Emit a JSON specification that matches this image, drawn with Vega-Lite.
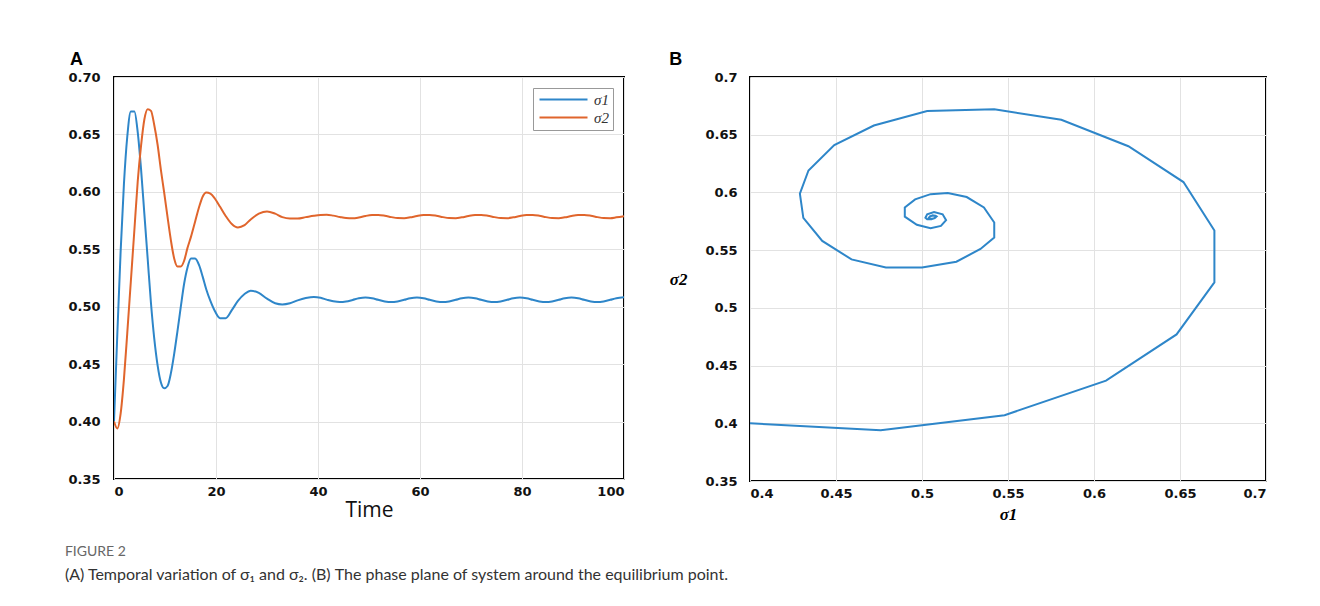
{
  "$schema": "https://vega.github.io/schema/vega-lite/v6.json",
  "background": "white",
  "padding": {"left": 64, "top": 50, "right": 20, "bottom": 5},
  "data": {"values": [
    {"t": 0, "s1": 0.400, "s2": 0.400},
    {"t": 0.65, "s1": 0.476, "s2": 0.394},
    {"t": 1.3, "s1": 0.548, "s2": 0.407},
    {"t": 1.95, "s1": 0.607, "s2": 0.437},
    {"t": 2.6, "s1": 0.648, "s2": 0.477},
    {"t": 3.3, "s1": 0.670, "s2": 0.522},
    {"t": 4.0, "s1": 0.670, "s2": 0.567},
    {"t": 4.65, "s1": 0.652, "s2": 0.609},
    {"t": 5.3, "s1": 0.620, "s2": 0.640},
    {"t": 5.95, "s1": 0.581, "s2": 0.663},
    {"t": 6.6, "s1": 0.542, "s2": 0.672},
    {"t": 7.25, "s1": 0.503, "s2": 0.6705},
    {"t": 7.9, "s1": 0.472, "s2": 0.658},
    {"t": 8.55, "s1": 0.449, "s2": 0.641},
    {"t": 9.2, "s1": 0.434, "s2": 0.619},
    {"t": 9.85, "s1": 0.429, "s2": 0.599},
    {"t": 10.5, "s1": 0.431, "s2": 0.578},
    {"t": 11.15, "s1": 0.442, "s2": 0.558},
    {"t": 11.8, "s1": 0.459, "s2": 0.542},
    {"t": 12.45, "s1": 0.479, "s2": 0.535},
    {"t": 13.1, "s1": 0.500, "s2": 0.535},
    {"t": 13.75, "s1": 0.520, "s2": 0.540},
    {"t": 14.4, "s1": 0.534, "s2": 0.551},
    {"t": 15.1, "s1": 0.542, "s2": 0.561},
    {"t": 15.9, "s1": 0.542, "s2": 0.574},
    {"t": 16.7, "s1": 0.536, "s2": 0.587},
    {"t": 17.4, "s1": 0.526, "s2": 0.596},
    {"t": 18.1, "s1": 0.515, "s2": 0.5995},
    {"t": 18.9, "s1": 0.505, "s2": 0.5985},
    {"t": 19.8, "s1": 0.496, "s2": 0.594},
    {"t": 20.8, "s1": 0.490, "s2": 0.587},
    {"t": 21.9, "s1": 0.490, "s2": 0.579},
    {"t": 23.1, "s1": 0.497, "s2": 0.572},
    {"t": 24.3, "s1": 0.505, "s2": 0.569},
    {"t": 25.6, "s1": 0.511, "s2": 0.571},
    {"t": 26.8, "s1": 0.514, "s2": 0.576},
    {"t": 28.4, "s1": 0.512, "s2": 0.581},
    {"t": 30.0, "s1": 0.507, "s2": 0.583},
    {"t": 31.6, "s1": 0.503, "s2": 0.581},
    {"t": 33.0, "s1": 0.502, "s2": 0.578},
    {"t": 34.5, "s1": 0.503, "s2": 0.5768},
    {"t": 36.0, "s1": 0.5055, "s2": 0.5768},
    {"t": 37.6, "s1": 0.5075, "s2": 0.578},
    {"t": 39.2, "s1": 0.5085, "s2": 0.5792},
    {"t": 40.5, "s1": 0.5078, "s2": 0.5799},
    {"t": 41.7, "s1": 0.5062, "s2": 0.5801},
    {"t": 43.0, "s1": 0.5047, "s2": 0.5793},
    {"t": 44.3, "s1": 0.5040, "s2": 0.5781},
    {"t": 45.5, "s1": 0.5045, "s2": 0.5772},
    {"t": 46.8, "s1": 0.5059, "s2": 0.5770},
    {"t": 48.0, "s1": 0.5073, "s2": 0.5777},
    {"t": 49.3, "s1": 0.5080, "s2": 0.5790},
    {"t": 50.6, "s1": 0.5074, "s2": 0.5798},
    {"t": 51.8, "s1": 0.5060, "s2": 0.5799},
    {"t": 53.1, "s1": 0.5046, "s2": 0.5792},
    {"t": 54.4, "s1": 0.5040, "s2": 0.5780},
    {"t": 55.6, "s1": 0.5046, "s2": 0.5772},
    {"t": 56.9, "s1": 0.5060, "s2": 0.5771},
    {"t": 58.1, "s1": 0.5074, "s2": 0.5778},
    {"t": 59.4, "s1": 0.5080, "s2": 0.5790},
    {"t": 60.7, "s1": 0.5074, "s2": 0.5798},
    {"t": 61.9, "s1": 0.5060, "s2": 0.5799},
    {"t": 63.2, "s1": 0.5046, "s2": 0.5792},
    {"t": 64.5, "s1": 0.5040, "s2": 0.5780},
    {"t": 65.7, "s1": 0.5046, "s2": 0.5772},
    {"t": 67.0, "s1": 0.5060, "s2": 0.5771},
    {"t": 68.2, "s1": 0.5074, "s2": 0.5778},
    {"t": 69.5, "s1": 0.5080, "s2": 0.5790},
    {"t": 70.8, "s1": 0.5074, "s2": 0.5798},
    {"t": 72.0, "s1": 0.5060, "s2": 0.5799},
    {"t": 73.3, "s1": 0.5046, "s2": 0.5792},
    {"t": 74.6, "s1": 0.5040, "s2": 0.5780},
    {"t": 75.8, "s1": 0.5046, "s2": 0.5772},
    {"t": 77.1, "s1": 0.5060, "s2": 0.5771},
    {"t": 78.3, "s1": 0.5074, "s2": 0.5778},
    {"t": 79.6, "s1": 0.5080, "s2": 0.5790},
    {"t": 80.9, "s1": 0.5074, "s2": 0.5798},
    {"t": 82.1, "s1": 0.5060, "s2": 0.5799},
    {"t": 83.4, "s1": 0.5046, "s2": 0.5792},
    {"t": 84.7, "s1": 0.5040, "s2": 0.5780},
    {"t": 85.9, "s1": 0.5046, "s2": 0.5772},
    {"t": 87.2, "s1": 0.5060, "s2": 0.5771},
    {"t": 88.4, "s1": 0.5074, "s2": 0.5778},
    {"t": 89.7, "s1": 0.5080, "s2": 0.5790},
    {"t": 91.0, "s1": 0.5074, "s2": 0.5798},
    {"t": 92.2, "s1": 0.5060, "s2": 0.5799},
    {"t": 93.5, "s1": 0.5046, "s2": 0.5792},
    {"t": 94.8, "s1": 0.5040, "s2": 0.5780},
    {"t": 96.0, "s1": 0.5046, "s2": 0.5772},
    {"t": 97.3, "s1": 0.5060, "s2": 0.5771},
    {"t": 98.5, "s1": 0.5074, "s2": 0.5778},
    {"t": 100.0, "s1": 0.5082, "s2": 0.5788}
  ]},
  "title": {
    "text": "FIGURE 2",
    "subtitle": "(A) Temporal variation of σ₁ and σ₂. (B) The phase plane of system around the equilibrium point.",
    "orient": "bottom",
    "anchor": "start",
    "frame": "bounds",
    "offset": 22,
    "dx": -2,
    "font": "Lato",
    "fontSize": 14,
    "fontWeight": "normal",
    "color": "#666666",
    "subtitleFont": "Lato",
    "subtitleFontSize": 16,
    "subtitleColor": "#333333",
    "subtitlePadding": 8
  },
  "spacing": 43,
  "resolve": {"legend": {"color": "independent"}, "scale": {"color": "independent"}},
  "hconcat": [
    {
      "width": 510,
      "height": 402,
      "title": {"text": "A", "anchor": "start", "frame": "bounds", "font": "Liberation Sans", "fontSize": 18, "fontWeight": "bold", "color": "#000", "offset": 2, "dx": 2},
      "transform": [{"fold": ["s1", "s2"], "as": ["series", "value"]}],
      "mark": {"type": "line", "strokeWidth": 2, "interpolate": "monotone", "clip": true},
      "encoding": {
        "x": {
          "field": "t", "type": "quantitative",
          "scale": {"domain": [0, 100], "nice": false},
          "axis": {"values": [0, 20, 40, 60, 80, 100], "title": "Time", "titleFont": "Open Sans", "titleFontSize": 21, "titleFontWeight": "normal", "titleColor": "#111", "labelPadding": 6, "titlePadding": 1}
        },
        "y": {
          "field": "value", "type": "quantitative",
          "scale": {"domain": [0.35, 0.7], "nice": false, "zero": false},
          "axis": {"values": [0.35, 0.4, 0.45, 0.5, 0.55, 0.6, 0.65, 0.7], "format": ".2f", "title": null, "labelPadding": 14}
        },
        "color": {
          "field": "series", "type": "nominal",
          "scale": {"domain": ["s1", "s2"], "range": ["#2e86c9", "#e0652c"]},
          "legend": {
            "orient": "top-right", "title": null, "offset": 11,
            "strokeColor": "#999999", "fillColor": "white", "padding": 4,
            "symbolType": "M-1,0H8.6", "symbolSize": 100, "symbolStrokeWidth": 2,
            "labelFont": "Liberation Serif", "labelFontStyle": "italic", "labelFontSize": 15, "labelColor": "#333",
            "labelOffset": 42,
            "labelExpr": "datum.label == 's1' ? 'σ1' : 'σ2'", "rowPadding": 2
          }
        }
      }
    },
    {
      "width": 516,
      "height": 404,
      "title": {"text": "B", "anchor": "start", "frame": "bounds", "font": "Liberation Sans", "fontSize": 18, "fontWeight": "bold", "color": "#000", "offset": 2},
      "mark": {"type": "line", "strokeWidth": 2, "color": "#2e86c9", "clip": true},
      "encoding": {
        "x": {
          "field": "s1", "type": "quantitative",
          "scale": {"domain": [0.4, 0.7], "nice": false, "zero": false},
          "axis": {"values": [0.4, 0.45, 0.5, 0.55, 0.6, 0.65, 0.7], "format": "~g", "title": "σ1", "titleFont": "Liberation Serif", "titleFontStyle": "italic", "titleFontSize": 17, "titleFontWeight": "bold", "labelPadding": 6, "titlePadding": 6}
        },
        "y": {
          "field": "s2", "type": "quantitative",
          "scale": {"domain": [0.35, 0.7], "nice": false, "zero": false},
          "axis": {"values": [0.35, 0.4, 0.45, 0.5, 0.55, 0.6, 0.65, 0.7], "format": "~g", "title": "σ2", "titleAngle": 0, "titleAlign": "right", "titleBaseline": "middle", "titleFont": "Liberation Serif", "titleFontStyle": "italic", "titleFontSize": 17, "titleFontWeight": "bold", "titlePadding": 18, "labelPadding": 13}
        },
        "order": {"field": "t", "type": "quantitative"}
      }
    }
  ],
  "config": {
    "view": {"stroke": "#000000", "strokeWidth": 2},
    "axis": {
      "labelFont": "DejaVu Sans", "labelFontWeight": "bold", "labelFontSize": 13, "labelColor": "#111111",
      "domain": false, "ticks": false,
      "grid": true, "gridColor": "#e2e2e2", "gridWidth": 1
    }
  }
}
